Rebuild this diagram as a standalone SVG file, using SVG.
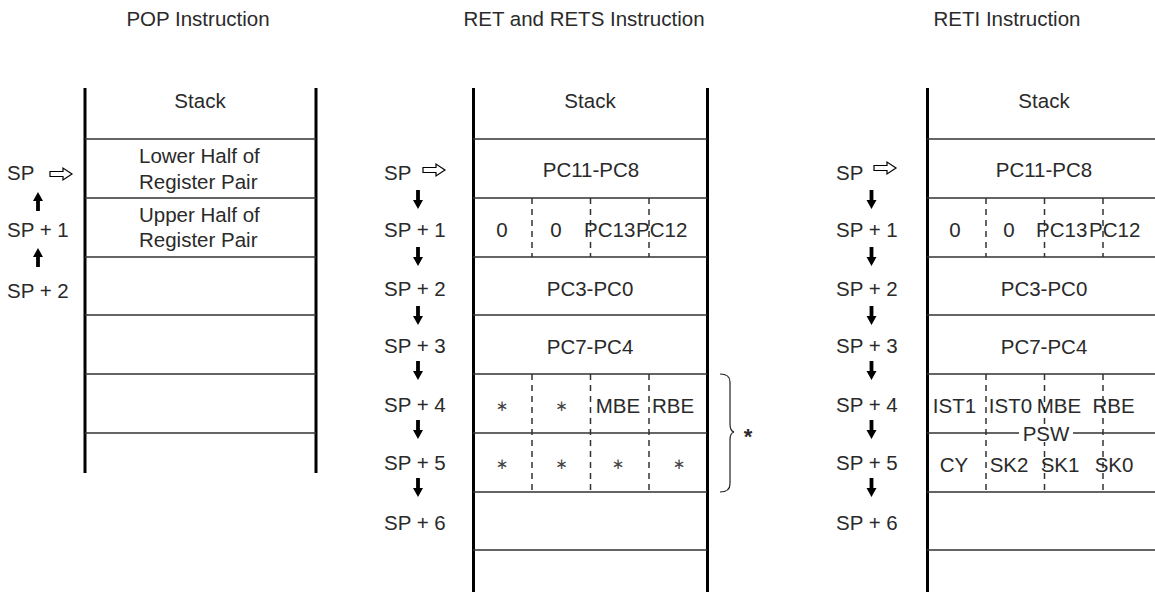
<svg xmlns="http://www.w3.org/2000/svg" width="1155" height="592" viewBox="0 0 1155 592">
<style>
text{font-family:"Liberation Sans",Arial,sans-serif;font-size:20.5px;fill:#2a2a2a}
.c{text-anchor:middle}
.wall{stroke:#000;stroke-width:3;fill:none}
.row{stroke:#333;stroke-width:1.5;fill:none}
.dash{stroke:#333;stroke-width:1.5;stroke-dasharray:6 5;fill:none}
.ast{font-family:"DejaVu Sans",sans-serif;font-size:15px;fill:#444}
.hollow{fill:#fff;stroke:#000;stroke-width:1.2}
.solid{fill:#000}
</style>
<defs>
<path id="dn" class="solid" d="M-1.9,0 H1.9 V10 H5 L0,19 L-5,10 H-1.9 Z"/>
<path id="ho" class="hollow" d="M0,-2.5 H13 V-6 L22,0 L13,6 V2.5 H0 Z"/>
</defs>
<rect width="1155" height="592" fill="#fff"/>

<g id="pop">
<text class="c" x="198" y="26">POP Instruction</text>
<line class="wall" x1="85" y1="88" x2="85" y2="473"/>
<line class="wall" x1="316" y1="88" x2="316" y2="473"/>
<path class="row" d="M85,139H316M85,198H316M85,257H316M85,315H316M85,374H316M85,433H316"/>
<text class="c" x="200" y="108">Stack</text>
<text x="139" y="163">Lower Half of</text>
<text x="139" y="189">Register Pair</text>
<text x="139" y="222">Upper Half of</text>
<text x="139" y="247">Register Pair</text>
<text x="7" y="180">SP</text>
<text x="7" y="237">SP + 1</text>
<text x="7" y="298">SP + 2</text>
</g>

<g id="ret">
<text class="c" x="584" y="26">RET and RETS Instruction</text>
<line class="wall" x1="473.5" y1="88" x2="473.5" y2="592"/>
<line class="wall" x1="707.5" y1="88" x2="707.5" y2="592"/>
<path class="row" d="M473,139H707M473,198H707M473,257H707M473,315H707M473,374H707M473,433H707M473,492H707M473,550H707"/>
<path class="dash" d="M532,198V257M590.5,198V257M649,198V257M532,374V492M590.5,374V492M649,374V492"/>
<text class="c" x="590" y="108">Stack</text>
<text class="c" x="591" y="177">PC11-PC8</text>
<text class="c" x="502" y="237">0</text>
<text class="c" x="556" y="237">0</text>
<text x="584" y="237">PC13</text>
<text x="636" y="237">PC12</text>
<text class="c" x="590" y="296">PC3-PC0</text>
<text class="c" x="590" y="354">PC7-PC4</text>
<text class="ast c" x="502" y="411">∗</text>
<text class="ast c" x="561.5" y="411">∗</text>
<text class="c" x="618" y="413">MBE</text>
<text class="c" x="673" y="413">RBE</text>
<text class="ast c" x="502" y="469">∗</text>
<text class="ast c" x="561.5" y="469">∗</text>
<text class="ast c" x="618" y="469">∗</text>
<text class="ast c" x="679" y="469">∗</text>
<text x="384" y="180">SP</text>
<text x="384" y="237">SP + 1</text>
<text x="384" y="296">SP + 2</text>
<text x="384" y="353">SP + 3</text>
<text x="384" y="412">SP + 4</text>
<text x="384" y="470">SP + 5</text>
<text x="384" y="530">SP + 6</text>
<path fill="none" stroke="#222" stroke-width="1.2" d="M720,374 Q730,374 730,382 V424 Q730,431 734,432 Q730,433 730,440 V484 Q730,492 720,492"/>
<text x="748" y="444" class="c" style="font-weight:bold;font-size:22px">*</text>
</g>

<g id="reti">
<text class="c" x="1007" y="26">RETI Instruction</text>
<line class="wall" x1="927.5" y1="88" x2="927.5" y2="592"/>
<path class="row" d="M927,139H1155M927,198H1155M927,257H1155M927,315H1155M927,374H1155M927,433H1155M927,492H1155M927,550H1155"/>
<path class="dash" d="M986,198V257M1044.5,198V257M1103,198V257M986,374V492M1044.5,374V492M1103,374V492"/>
<rect x="1019" y="424" width="54" height="18" fill="#fff"/>
<text class="c" x="1046" y="441">PSW</text>
<text class="c" x="1044" y="108">Stack</text>
<text class="c" x="1044" y="177">PC11-PC8</text>
<text class="c" x="955" y="237">0</text>
<text class="c" x="1009" y="237">0</text>
<text x="1036" y="237">PC13</text>
<text x="1089" y="237">PC12</text>
<text class="c" x="1044" y="296">PC3-PC0</text>
<text class="c" x="1044" y="354">PC7-PC4</text>
<text class="c" x="954.5" y="413">IST1</text>
<text class="c" x="1010.5" y="413">IST0</text>
<text class="c" x="1059" y="413">MBE</text>
<text class="c" x="1113.5" y="413">RBE</text>
<text class="c" x="954" y="472">CY</text>
<text class="c" x="1009" y="472">SK2</text>
<text class="c" x="1060" y="472">SK1</text>
<text class="c" x="1114" y="472">SK0</text>
<text x="836" y="180">SP</text>
<text x="836" y="237">SP + 1</text>
<text x="836" y="296">SP + 2</text>
<text x="836" y="353">SP + 3</text>
<text x="836" y="412">SP + 4</text>
<text x="836" y="470">SP + 5</text>
<text x="836" y="530">SP + 6</text>
</g>

<g id="connectors">
<use href="#ho" x="50" y="174"/>
<use href="#dn" transform="translate(38,211) rotate(180)"/>
<use href="#dn" transform="translate(38,267) rotate(180)"/>
<use href="#ho" x="423" y="170"/>
<use href="#dn" x="418" y="190"/>
<use href="#dn" x="418" y="247"/>
<use href="#dn" x="418" y="306"/>
<use href="#dn" x="418" y="361"/>
<use href="#dn" x="418" y="420"/>
<use href="#dn" x="418" y="478"/>
<use href="#ho" x="874" y="168"/>
<use href="#dn" x="871.5" y="190"/>
<use href="#dn" x="871.5" y="247"/>
<use href="#dn" x="871.5" y="306"/>
<use href="#dn" x="871.5" y="361"/>
<use href="#dn" x="871.5" y="420"/>
<use href="#dn" x="871.5" y="478"/>
</g>
</svg>
